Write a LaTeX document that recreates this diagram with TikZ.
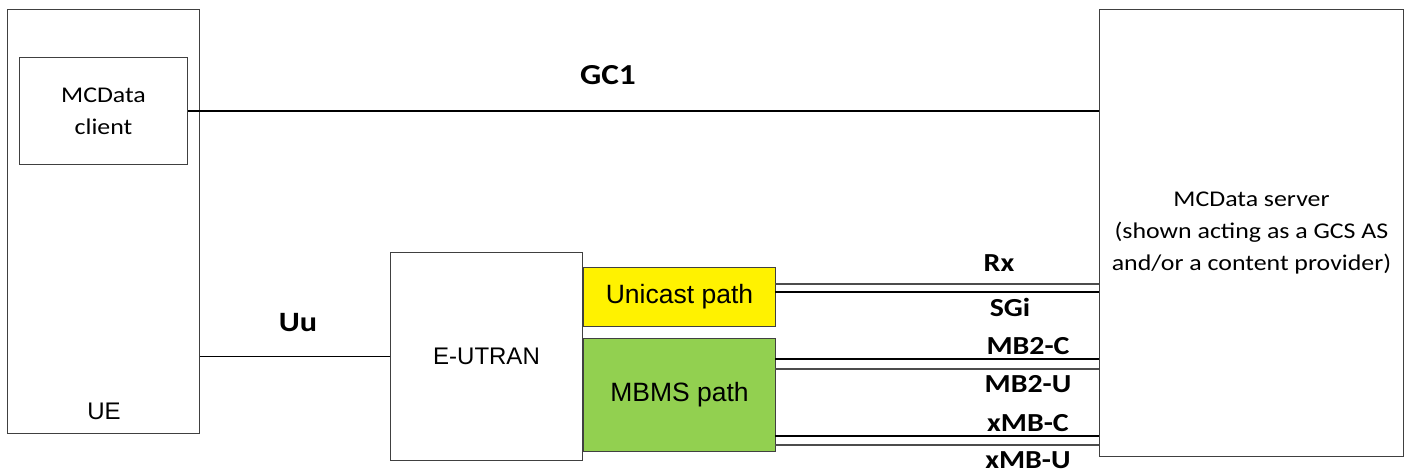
\documentclass[tikz,border=0pt]{standalone}
\usepackage{fontspec}
\setmainfont{Carlito}
\newfontfamily\widef[FakeStretch=1.15]{Carlito}
\newfontfamily\arialf{Liberation Sans}
\begin{document}
\begin{tikzpicture}[x=1pt,y=-1pt,
  box/.style={draw=black!75,line width=1pt,inner sep=0pt,anchor=north west},
  link/.style={draw=black,line width=1.5pt},
  lbl/.style={font=\widef\fontsize{26}{30}\selectfont\bfseries,inner sep=0pt},
  calt/.style={font=\widef\fontsize{22.5}{31.7}\selectfont,align=center,inner sep=0pt},
  arlt/.style={font=\arialf\fontsize{26.5}{30}\selectfont,inner sep=0pt}]
\useasboundingbox (0,0) rectangle (1407,473);
% boxes
\node[box,minimum width=192pt,minimum height=424pt] (ue) at (7,9) {};
\node[box,minimum width=168pt,minimum height=107pt] (client) at (19,57) {};
\node[box,minimum width=304pt,minimum height=447pt] (server) at (1099,9) {};
\node[box,minimum width=192pt,minimum height=208pt] (eutran) at (390,252) {};
\node[box,fill=yellow,minimum width=192pt,minimum height=59pt] (uni) at (583,267) {};
\node[box,fill={rgb,255:red,146;green,208;blue,80},minimum width=192pt,minimum height=113pt] (mbms) at (583,338) {};
% texts
\node[calt] at (client.center) {MCData\\client};
\node[arlt,font=\arialf\fontsize{24}{30}\selectfont] at (104,411) {UE};
\node[calt] at (server.center) {MCData server\\(shown acting as a GCS AS\\and/or a content provider)};
\node[arlt,font=\arialf\fontsize{24}{30}\selectfont] at (eutran.center) {E-UTRAN};
\node[arlt] at (uni.center) {Unicast path};
\node[arlt] at (mbms.center) {MBMS path};
% connectors
\draw[link] (client.east) -- (client.east -| server.west);
\draw[link] (eutran.west) -- (eutran.west -| ue.east);
\coordinate (rx) at (775,284);
\coordinate (sgi) at (775,292);
\coordinate (mbc) at (775,359);
\coordinate (mbu) at (775,369);
\coordinate (xmc) at (775,436);
\coordinate (xmu) at (775,445);
\draw[link,draw=black!70,line width=1.2pt] (rx) -- (rx -| server.west);
\draw[link] (sgi) -- (sgi -| server.west);
\draw[link] (mbc) -- (mbc -| server.west);
\draw[link,draw=black!70,line width=1.2pt] (mbu) -- (mbu -| server.west);
\draw[link] (xmc) -- (xmc -| server.west);
\draw[link,draw=black!70,line width=1.2pt] (xmu) -- (xmu -| server.west);
% labels
\node[lbl,font=\widef\fontsize{29}{30}\selectfont\bfseries] at (608,75) {GC1};
\node[lbl,font=\widef\fontsize{28}{30}\selectfont\bfseries] at (298,323) {Uu};
\node[lbl] at (999,263) {Rx};
\node[lbl] at (1010,307) {SGi};
\node[lbl] at (1028,346) {MB2-C};
\node[lbl] at (1028,384) {MB2-U};
\node[lbl] at (1028,423) {xMB-C};
\node[lbl] at (1028,460) {xMB-U};
\end{tikzpicture}
\end{document}
